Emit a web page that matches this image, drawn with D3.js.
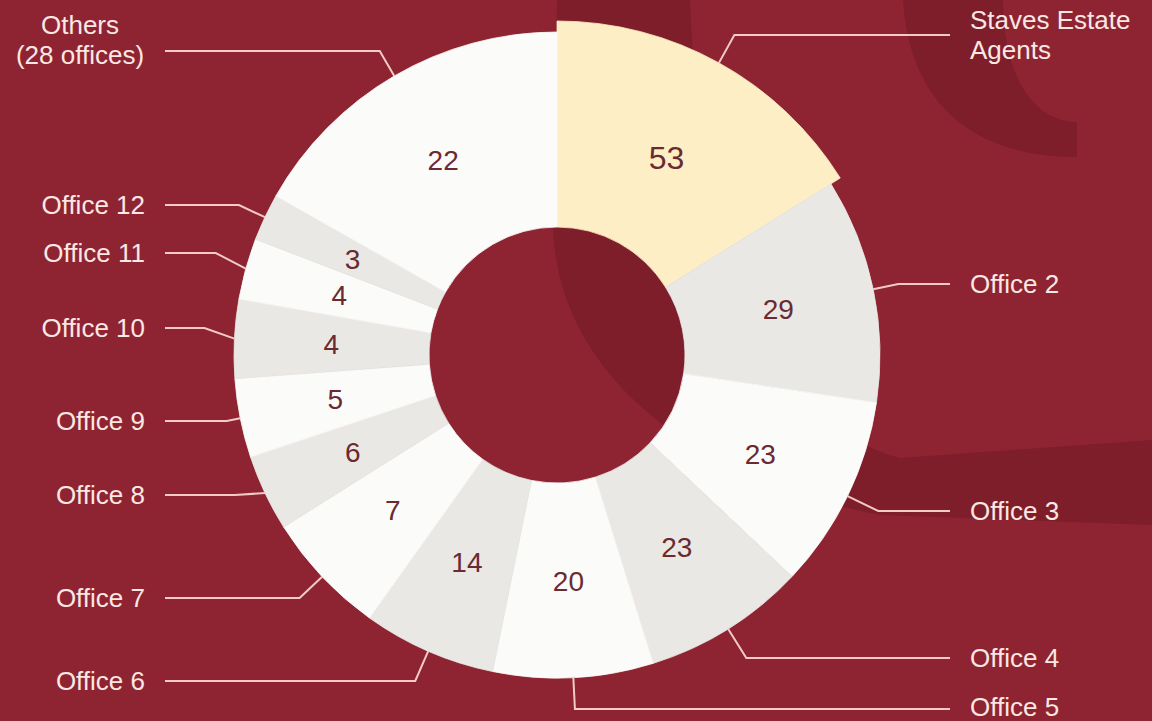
<!DOCTYPE html>
<html>
<head>
<meta charset="utf-8">
<title>Offices donut</title>
<script src="https://cdn.jsdelivr.net/npm/d3@7"></script>
<style>
  html, body { margin: 0; padding: 0; background: #8e2432; overflow: hidden; }
  svg { display: block; }
  text { font-family: "Liberation Sans", Arial, sans-serif; }
</style>
</head>
<body>
<div id="chart"></div>
<script>

  // data
  const names = [
    ["Staves Estate", "Agents"], ["Office 2"], ["Office 3"], ["Office 4"], ["Office 5"],
    ["Office 6"], ["Office 7"], ["Office 8"], ["Office 9"], ["Office 10"],
    ["Office 11"], ["Office 12"], ["Others", "(28 offices)"]
  ]
  const values = [53, 29, 23, 23, 20, 14, 7, 6, 5, 4, 4, 3, 22]
  // slice widths as drawn in the original graphic (degrees) - not proportional to the values
  const drawnShare = [58, 40.5, 34.8, 29.4, 28.8, 24, 22.3, 13.8, 14.2, 14.2, 11, 8.5, 60.5]

  // layout: y of each leader line and of the first text line
  const leaderY = [35, 284, 511, 658, 709, 681, 598, 495, 421, 328, 253, 205, 51]
  const textY = [20, 284, 511, 658, 707, 681, 598, 495, 421, 328, 253, 205, 25]

  const width = 1152
  const height = 721
  const cx = 557
  const cy = 355
  const innerR = 128
  const outerR = 323
  const highlightR = 334

  const fills = i => i === 0 ? "#fdeec6" : (i % 2 === 1 ? "#e9e8e5" : "#fbfbfa")

  const svg = d3.select("#chart")
    .append("svg")
    .attr("width", width)
    .attr("height", height)

  svg.append("rect")
    .attr("width", width)
    .attr("height", height)
    .attr("fill", "#8e2432")

  // watermark shapes behind the chart
  const deco = svg.append("g").attr("fill", "#7e1e2b")
  deco.append("path")
    .attr("d", "M557,0 L690,0 C700,250 760,420 900,458 L1152,440 L1152,525 L880,515 C700,480 560,380 553,230 Z")
  deco.append("path")
    .attr("d", "M903,0 C910,110 980,157 1077,157 L1077,122 C1030,122 1003,70 1003,0 Z")

  const pie = d3.pie()
    .sort(null)
    .value(i => drawnShare[i])

  const arcs = pie(d3.range(values.length))

  const rOut = d => d.index === 0 ? highlightR : outerR

  const arc = d3.arc()
    .innerRadius(innerR)
    .outerRadius(rOut)

  const labelArc = d3.arc()
    .innerRadius(226)
    .outerRadius(226)

  const g = svg.append("g")
    .attr("transform", `translate(${cx},${cy})`)

  g.selectAll("path.slice")
    .data(arcs)
    .enter().append("path")
    .attr("class", "slice")
    .attr("d", arc)
    .attr("fill", d => fills(d.index))
    .attr("stroke", d => fills(d.index))
    .attr("stroke-width", 0.8)

  g.selectAll("text.value")
    .data(arcs)
    .enter().append("text")
    .attr("class", "value")
    .attr("transform", d => `translate(${labelArc.centroid(d)})`)
    .attr("text-anchor", "middle")
    .attr("dy", "0.36em")
    .attr("fill", "#6b2a30")
    .style("font-size", d => d.index === 0 ? "32px" : "28px")
    .text(d => values[d.index])

  // leader lines
  const leader = d => {
    const i = d.index
    const mid = (d.startAngle + d.endAngle) / 2
    const rx = Math.sin(mid)
    const ry = -Math.cos(mid)
    const sx = cx + rx * rOut(d)
    const sy = cy + ry * rOut(d)
    const ty = leaderY[i]
    const t = (ty - sy) / ry
    const ex = (t >= 10 && t <= 45) ? sx + rx * t : sx + Math.sign(rx) * 30
    const endX = rx > 0 ? 950 : 165
    return [[sx, sy], [ex, ty], [endX, ty]]
  }

  svg.append("g")
    .selectAll("path")
    .data(arcs)
    .enter().append("path")
    .attr("d", d => d3.line()(leader(d)))
    .attr("fill", "none")
    .attr("stroke", "#f2cbc6")
    .attr("stroke-width", 2)

  svg.append("g")
    .selectAll("text")
    .data(arcs)
    .enter().append("text")
    .attr("fill", "#fbe7e3")
    .style("font-size", "26px")
    .each(function (d) {
      const i = d.index
      const mid = (d.startAngle + d.endAngle) / 2
      const right = Math.sin(mid) > 0
      const multi = names[i].length > 1
      const x = right ? 970 : (multi ? 80 : 145)
      const anchor = right ? "start" : (multi ? "middle" : "end")
      const el = d3.select(this).attr("text-anchor", anchor)
      names[i].forEach((line, k) => {
        el.append("tspan")
          .attr("x", x)
          .attr("y", textY[i] + k * 30)
          .attr("dy", "0.36em")
          .text(line)
      })
    })

</script>
</body>
</html>
